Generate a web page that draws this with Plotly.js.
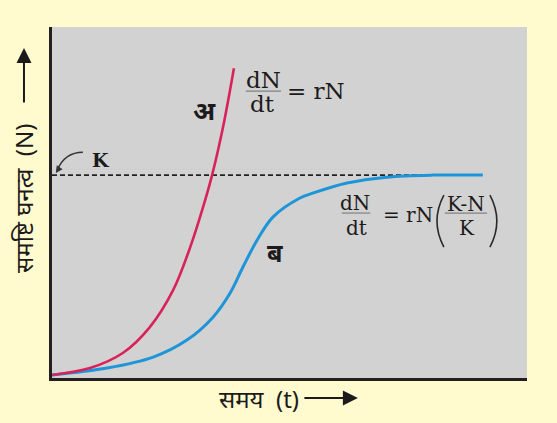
<!DOCTYPE html>
<html>
<head>
<meta charset="utf-8">
<script src="https://cdn.plot.ly/plotly-3.0.1.min.js"></script>
<style>
  html, body { margin: 0; padding: 0; background: #fffbcf; }
  #chart { width: 557px; height: 423px; }
</style>
</head>
<body>
<div id="chart"></div>
<script>
// time (t) and population density (N); K = 100
const K = 100;
const expT = [0, 0.8, 1.49, 2.06, 2.55, 2.91, 3.18, 3.37, 3.6, 3.83];
const expN = [1.5, 4.9, 12.3, 25.1, 43.3, 64.5, 84.2, 100, 123.6, 152.7];
const logT = [0, 1.16, 2.13, 2.84, 3.39, 3.75, 4.02, 4.32, 4.65, 5.22, 5.49, 6.21, 7.05, 8.02, 9.07];
const logN = [1.5, 4.9, 10.3, 18.7, 30.0, 41.9, 54.7, 68.0, 79.3, 88.7, 91.1, 96.1, 99.0, 100, 100];
const kT = [0, 9.07];

const ink = '#1c1a1a';
const serif = 'DejaVu Serif, serif';
const deva = 'Noto Sans, sans-serif';

let traces = [
  {
    x: kT, y: kT.map(() => K),
    type: 'scatter', mode: 'lines',
    line: {color: '#222', width: 1.8, dash: '5px,3px'},
    hoverinfo: 'skip'
  },
  {
    x: logT, y: logN,
    type: 'scatter', mode: 'lines',
    line: {color: '#1d95d8', width: 3, shape: 'spline', smoothing: 1},
    name: 'ब'
  },
  {
    x: expT, y: expN,
    type: 'scatter', mode: 'lines',
    line: {color: '#d8235a', width: 2.6, shape: 'spline', smoothing: 1},
    name: 'अ'
  }
];

function txt(x, y, text, size, family, extra) {
  return Object.assign({
    x: x, y: y, text: text, showarrow: false,
    xanchor: 'center', yanchor: 'middle',
    font: {size: size, family: family, color: ink}
  }, extra || {});
}

function bar(x0, x1, y) {
  return {type: 'line', x0: x0, x1: x1, y0: y, y1: y,
          line: {color: '#808080', width: 1.2}};
}

function paren(path) {
  return {type: 'path', path: path, line: {color: '#2a2a2a', width: 1.6}};
}

function arrow(x, y, ax, ay) {
  return {xref: 'paper', yref: 'paper', x: x, y: y, ax: ax, ay: ay, text: '',
          showarrow: true, arrowhead: 2, arrowsize: 1.5, arrowwidth: 2, arrowcolor: ink};
}

let annotations = [
  txt(3.2, 132, '<b>अ</b>', 26, deva),
  txt(4.7, 62, '<b>ब</b>', 25, deva),
  txt(1.04, 107.6, '<b>K</b>', 19, serif),
  // dN/dt = rN
  txt(4.45, 146.8, 'dN', 23, serif),
  txt(4.44, 135.2, 'dt', 23, serif),
  txt(5.56, 141.4, '= rN', 23, serif),
  // dN/dt = rN((K-N)/K)
  txt(6.38, 86.2, 'dN', 20, serif),
  txt(6.4, 73.9, 'dt', 20, serif),
  txt(7.5, 80.3, '= rN', 20, serif),
  txt(8.71, 85.7, 'K-N', 20, serif),
  txt(8.74, 73.9, 'K', 20, serif),
  // K pointer head
  {x: 0.08, y: 101, ax: 4, ay: -6, text: '', showarrow: true,
   arrowhead: 2, arrowsize: 1, arrowwidth: 1.4, arrowcolor: '#333'},
  // axis titles
  {xref: 'paper', yref: 'paper', x: -0.059, y: 0.513, text: 'समष्टि घनत्व  (N)',
   xanchor: 'center', yanchor: 'middle',
   textangle: -90, showarrow: false, font: {size: 24, family: deva, color: ink}},
  arrow(-0.059, 0.94, 0, 56),
  {xref: 'paper', yref: 'paper', x: 0.436, y: -0.057, text: 'समय  (t)',
   xanchor: 'center', yanchor: 'middle',
   showarrow: false, font: {size: 24, family: deva, color: ink}},
  arrow(0.644, -0.057, -55, 0)
];

let shapes = [
  bar(4.08, 4.82, 141.4),
  bar(6.1, 6.7, 81.3),
  bar(8.27, 9.16, 81.3),
  paren('M 8.25 90.1 Q 7.96 77.3 8.25 64.5'),
  paren('M 9.22 90.1 Q 9.51 77.3 9.22 64.5'),
  // curved pointer from K to the dashed line
  {type: 'path', path: 'M 0.65 111.3 Q 0.27 111.3 0.11 102.5',
   line: {color: '#333', width: 1.4}}
];

let layout = {
  width: 557, height: 423,
  margin: {l: 52, r: 30, t: 27, b: 45, pad: 0},
  paper_bgcolor: '#fffbcf',
  plot_bgcolor: '#d2d2d2',
  showlegend: false,
  xaxis: {range: [0, 10], showline: true, linecolor: '#231f20', linewidth: 3,
          showgrid: false, zeroline: false, ticks: '', showticklabels: false, fixedrange: true},
  yaxis: {range: [0, 173], showline: true, linecolor: '#231f20', linewidth: 3,
          showgrid: false, zeroline: false, ticks: '', showticklabels: false, fixedrange: true},
  annotations: annotations,
  shapes: shapes
};

Plotly.newPlot('chart', traces, layout, {displayModeBar: false, staticPlot: true});
</script>
</body>
</html>
